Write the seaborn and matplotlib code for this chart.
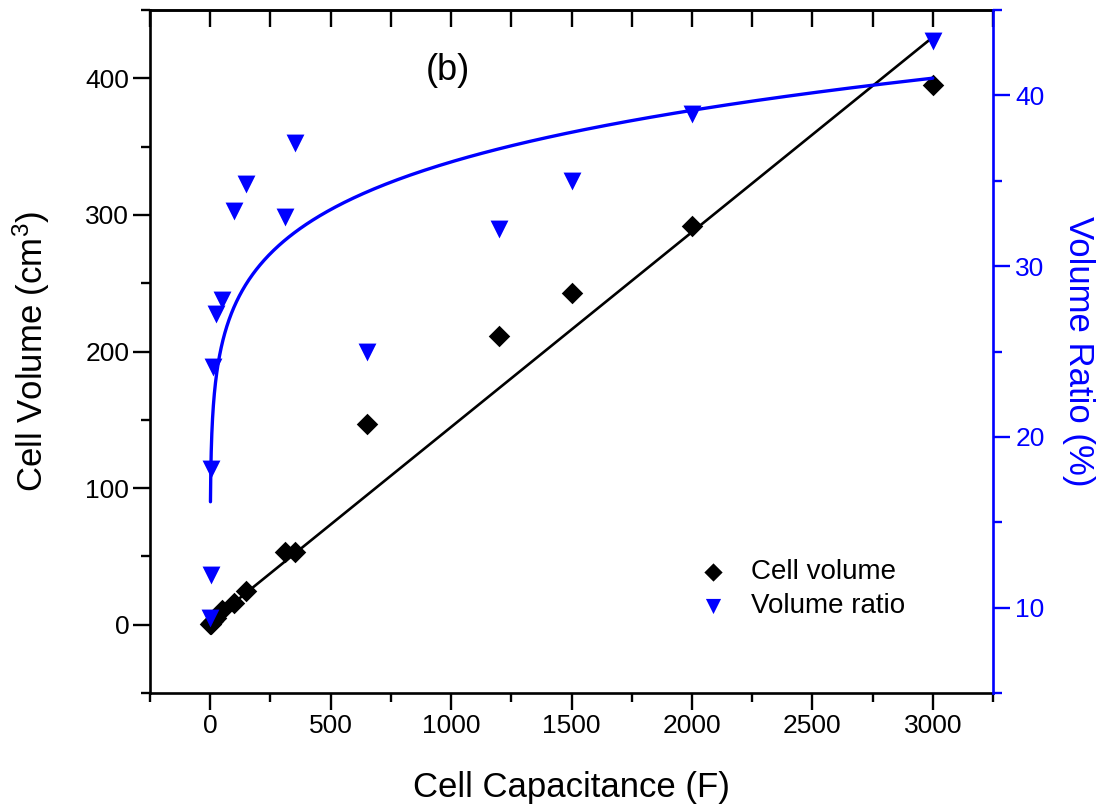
import numpy as np
import matplotlib
matplotlib.use("Agg")
import matplotlib.pyplot as plt
import seaborn as sns
from matplotlib.ticker import MultipleLocator, FixedLocator

# ---- data ----
capacitance_F = [1, 3, 5, 10, 25, 50, 100, 150, 310, 350, 650, 1200, 1500, 2000, 3000]
cell_volume_cm3 = [0.4, 0.8, 1.2, 2.5, 5, 11, 16, 25, 53, 53, 147, 211, 243, 292, 395]
volume_ratio_pct = [9.4, 11.9, 18.1, 24.1, 27.2, 28.0, 33.2, 34.8, 32.9, 37.2, 25.0, 32.2, 35.0, 38.9, 43.2]

# fitted curves (parameters)
volume_fit_intercept = 2.0
volume_fit_slope = 0.1427
ratio_fit_a = 16.2      # ratio = a * C**b
ratio_fit_b = 0.116

x_major_ticks = [0, 500, 1000, 1500, 2000, 2500, 3000]
left_major_ticks = [0, 100, 200, 300, 400]
right_major_ticks = [10, 20, 30, 40]

BLUE = "#0000FF"

sns.set_style("ticks")
plt.rcParams["font.family"] = ["Liberation Sans", "DejaVu Sans"]
plt.rcParams["mathtext.fontset"] = "custom"
plt.rcParams["mathtext.rm"] = "Liberation Sans"
plt.rcParams["mathtext.it"] = "Liberation Sans:italic"
plt.rcParams["text.color"] = "black"
plt.rcParams["axes.labelcolor"] = "black"
plt.rcParams["xtick.color"] = "black"
plt.rcParams["ytick.color"] = "black"

fig = plt.figure(figsize=(11.06, 8.07), dpi=100)
ax = fig.add_axes([150 / 1106, 1 - 693 / 807, (993 - 150) / 1106, (693 - 10) / 807])
ax2 = ax.twinx()

# ---- fit lines ----
fit_x_lin = np.array([min(capacitance_F), max(capacitance_F)], dtype=float)
fit_y_lin = volume_fit_intercept + volume_fit_slope * fit_x_lin
sns.lineplot(x=fit_x_lin, y=fit_y_lin, ax=ax, color="black", linewidth=1.9,
             estimator=None, sort=False, zorder=2)

fit_x_pow = np.geomspace(min(capacitance_F), max(capacitance_F), 600)
fit_y_pow = ratio_fit_a * fit_x_pow ** ratio_fit_b
sns.lineplot(x=fit_x_pow, y=fit_y_pow, ax=ax2, color=BLUE, linewidth=2.4,
             estimator=None, sort=False, zorder=2)

# ---- scatter points ----
sns.scatterplot(x=capacitance_F, y=cell_volume_cm3, ax=ax, marker="D", color="black",
                s=120, linewidth=0, zorder=3, label="Cell volume")
sns.scatterplot(x=capacitance_F, y=volume_ratio_pct, ax=ax2, marker="v", color=BLUE,
                s=165, linewidth=0, zorder=3, label="Volume ratio")

for a in (ax, ax2):
    lg = a.get_legend()
    if lg is not None:
        lg.remove()

# ---- axes limits & ticks ----
ax.set_xlim(-250, 3250)
ax.set_ylim(-50, 450)
ax2.set_ylim(5, 45)

ax.xaxis.set_major_locator(FixedLocator(x_major_ticks))
ax.xaxis.set_minor_locator(MultipleLocator(250))
ax.yaxis.set_major_locator(FixedLocator(left_major_ticks))
ax.yaxis.set_minor_locator(MultipleLocator(50))
ax2.yaxis.set_major_locator(FixedLocator(right_major_ticks))
ax2.yaxis.set_minor_locator(MultipleLocator(5))

ax.tick_params(axis="both", which="major", direction="out", length=12, width=1.7,
               labelsize=19, colors="black", pad=3)
ax.tick_params(axis="both", which="minor", direction="out", length=6.5, width=1.7)
ax.tick_params(axis="x", top=False, bottom=True)
ax.tick_params(axis="y", right=False, left=True)
ax2.tick_params(axis="y", which="major", direction="out", length=12, width=1.7,
                labelsize=19, colors=BLUE, pad=4)
ax2.tick_params(axis="y", which="minor", direction="out", length=6.5, width=1.7, colors=BLUE)

# top axis: inward ticks without labels
top = ax.secondary_xaxis("top")
top.xaxis.set_major_locator(MultipleLocator(250))
top.xaxis.set_minor_locator(plt.NullLocator())
top.tick_params(axis="x", direction="in", length=12, width=1.7, labeltop=False)
top.spines["top"].set_linewidth(1.9)

for name, sp in ax.spines.items():
    sp.set_linewidth(1.9)
    sp.set_color("black")
ax.spines["right"].set_visible(False)
for name in ("left", "top", "bottom"):
    ax2.spines[name].set_visible(False)
ax2.spines["right"].set_visible(True)
ax2.spines["right"].set_color(BLUE)
ax2.spines["right"].set_linewidth(1.9)

# ---- labels ----
ax.set_xlabel("Cell Capacitance (F)", fontsize=25, labelpad=24)
ax.set_ylabel("Cell Volume (cm$^3$)", fontsize=25, labelpad=24)
ax2.set_ylabel("Volume Ratio (%)", fontsize=25, color=BLUE, rotation=270, labelpad=36)

ax.text(0.3535, 0.912, "(b)", transform=ax.transAxes, fontsize=26,
        ha="center", va="center")

# ---- legend ----
h1, l1 = ax.get_legend_handles_labels()
h2, l2 = ax2.get_legend_handles_labels()
ax2.legend(h1 + h2, l1 + l2, loc="center left", bbox_to_anchor=(0.6515, 0.152),
           frameon=False, fontsize=20, handlelength=1.0, handletextpad=0.85,
           borderpad=0, borderaxespad=0, labelspacing=0.3, markerscale=0.85)

fig.savefig("out.png", dpi=100)
